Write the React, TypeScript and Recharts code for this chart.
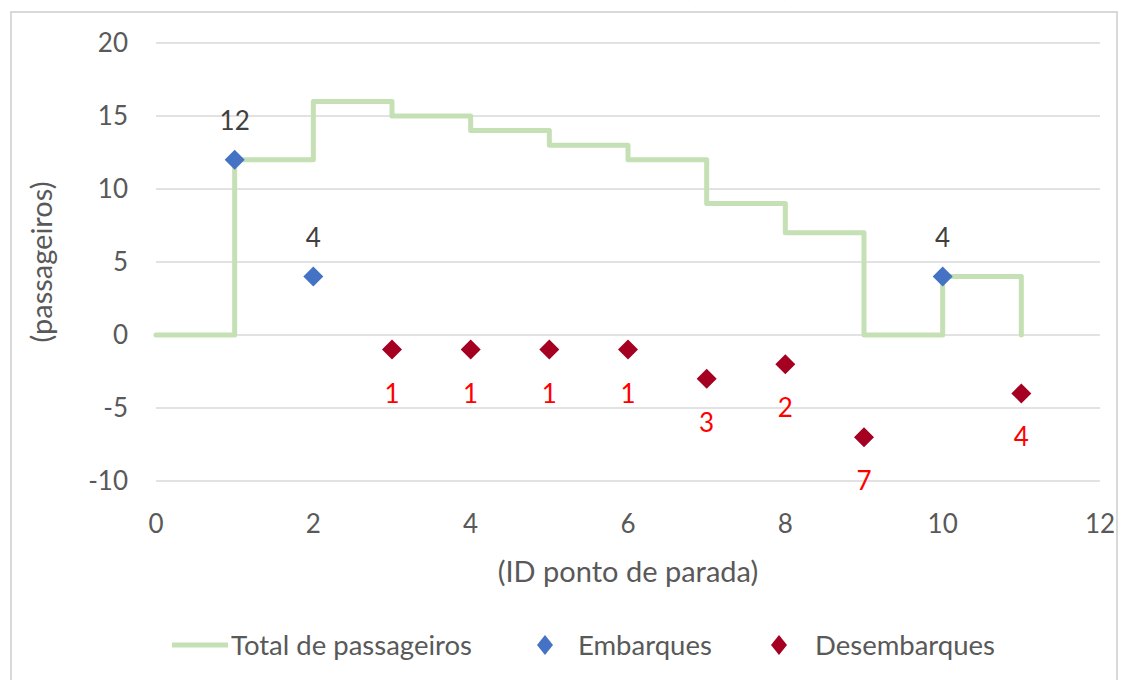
import React from 'react';
import {
  ComposedChart,
  Line,
  Scatter,
  XAxis,
  YAxis,
  CartesianGrid,
  Legend,
} from 'recharts';

// ---- data ----
const stopIds = [0, 1, 2, 3, 4, 5, 6, 7, 8, 9, 10, 11];
const totalPassengers = [0, 12, 16, 15, 14, 13, 12, 9, 7, 0, 4, 0];

const boardingStops = [1, 2, 10];
const boardingCounts = [12, 4, 4];

const alightingStops = [3, 4, 5, 6, 7, 8, 9, 11];
const alightingCounts = [1, 1, 1, 1, 3, 2, 7, 4];

const xTicks = [0, 2, 4, 6, 8, 10, 12];
const yTicks = [-10, -5, 0, 5, 10, 15, 20];

const titleText = 'Carregamento do ônibus (pessoas)';
const xTitle = '(ID ponto de parada)';
const yTitle = '(passageiros)';
const seriesNames = ['Total de passageiros', 'Embarques', 'Desembarques'];

// ---- tables built from the arrays ----
const totalData = stopIds.map((x, i) => ({ x, total: totalPassengers[i] }));
const boardingData = boardingStops.map((x, i) => ({ x, y: boardingCounts[i], label: boardingCounts[i] }));
const alightingData = alightingStops.map((x, i) => ({ x, y: -alightingCounts[i], label: alightingCounts[i] }));

const GREEN = '#C5E0B4';
const BLUE = '#4472C4';
const RED = '#A50021';
const TEXT = '#595959';
const FONT = 'Lato, "Open Sans", sans-serif';
const FS = 26;
const FS_LEGEND = 27.5;
const FS_TITLE = 29;

const diamond = (cx: number, cy: number, hw: number, hh: number) =>
  `${cx},${cy - hh} ${cx + hw},${cy} ${cx},${cy + hh} ${cx - hw},${cy}`;

const BoardingShape = (props: any) => {
  const { cx, cy, payload } = props;
  return (
    <g>
      <polygon points={diamond(cx, cy, 10, 10)} fill={BLUE} />
      <text x={cx} y={cy - 30} textAnchor="middle" fontSize={FS} fill="#404040">
        {payload.label}
      </text>
    </g>
  );
};

const AlightingShape = (props: any) => {
  const { cx, cy, payload } = props;
  return (
    <g>
      <polygon points={diamond(cx, cy, 10, 10)} fill={RED} />
      <text x={cx} y={cy + 53} textAnchor="middle" fontSize={FS} fill="#FF0000">
        {payload.label}
      </text>
    </g>
  );
};

const LegendContent = () => (
  <svg width={1100} height={40} style={{ display: 'block', overflow: 'visible' }}>
    <line x1={172} y1={20} x2={228} y2={20} stroke={GREEN} strokeWidth={5} />
    <text x={231} y={29.5} fontSize={FS_LEGEND} fill={TEXT}>{seriesNames[0]}</text>
    <polygon points={diamond(545, 20, 8, 10)} fill={BLUE} />
    <text x={578} y={29.5} fontSize={FS_LEGEND} fill={TEXT}>{seriesNames[1]}</text>
    <polygon points={diamond(779, 20, 8, 10)} fill={RED} />
    <text x={815} y={29.5} fontSize={FS_LEGEND} fill={TEXT}>{seriesNames[2]}</text>
  </svg>
);

export default function App() {
  return (
    <div
      style={{
        position: 'absolute',
        left: 0,
        top: 0,
        width: 1129,
        height: 680,
        overflow: 'hidden',
        background: '#fff',
        fontFamily: FONT,
      }}
    >
      <div
        style={{
          position: 'absolute',
          left: 10,
          top: 11,
          width: 1108,
          height: 700,
          border: '2px solid #D9D9D9',
          boxSizing: 'border-box',
        }}
      />
      <svg width={1129} height={20} style={{ position: 'absolute', left: 0, top: 0 }}>
        <text x={790} y={-4} textAnchor="end" fontSize={FS} fontWeight="bold" fill="#000">
          {titleText}
        </text>
      </svg>
      <div style={{ position: 'absolute', left: 0, top: 0 }}>
        <ComposedChart
          width={1129}
          height={680}
          data={totalData}
          margin={{ top: 43, right: 29, left: 30, bottom: 0 }}
        >
          <CartesianGrid vertical={false} stroke="#D9D9D9" strokeWidth={1.5} />
          <XAxis
            type="number"
            dataKey="x"
            domain={[0, 12]}
            ticks={xTicks}
            axisLine={false}
            tickLine={false}
            tickSize={0}
            tickMargin={34}
            height={159}
            tick={{ fill: TEXT, fontSize: FS }}
            label={{
              content: (p: any) => {
                const vb = p.viewBox || {};
                return (
                  <text x={vb.x + vb.width / 2} y={vb.y + 101} textAnchor="middle" fontSize={FS_TITLE} fill={TEXT}>
                    {xTitle}
                  </text>
                );
              },
            }}
          />
          <YAxis
            type="number"
            domain={[-10, 20]}
            ticks={yTicks}
            axisLine={false}
            tickLine={false}
            tickSize={0}
            tickMargin={28}
            width={126}
            tick={{ fill: TEXT, fontSize: FS }}
            label={{
              content: (p: any) => {
                const vb = p.viewBox || {};
                const cx = vb.x + 10;
                const cy = vb.y + vb.height / 2;
                return (
                  <text
                    x={cx}
                    y={cy}
                    transform={`rotate(-90 ${cx} ${cy})`}
                    textAnchor="middle"
                    dominantBaseline="central"
                    fontSize={FS_TITLE}
                    fill={TEXT}
                  >
                    {yTitle}
                  </text>
                );
              },
            }}
          />
          <Legend
            verticalAlign="bottom"
            height={40}
            content={<LegendContent />}
            wrapperStyle={{ position: 'absolute', top: 625, left: 0, width: 1100, height: 40 }}
          />
          <Line
            type="stepAfter"
            dataKey="total"
            name={seriesNames[0]}
            stroke={GREEN}
            strokeWidth={5}
            strokeLinejoin="round"
            strokeLinecap="round"
            dot={false}
            activeDot={false}
            isAnimationActive={false}
          />
          <Scatter
            data={boardingData}
            dataKey="y"
            name={seriesNames[1]}
            fill={BLUE}
            shape={BoardingShape}
            isAnimationActive={false}
          />
          <Scatter
            data={alightingData}
            dataKey="y"
            name={seriesNames[2]}
            fill={RED}
            shape={AlightingShape}
            isAnimationActive={false}
          />
        </ComposedChart>
      </div>
    </div>
  );
}
